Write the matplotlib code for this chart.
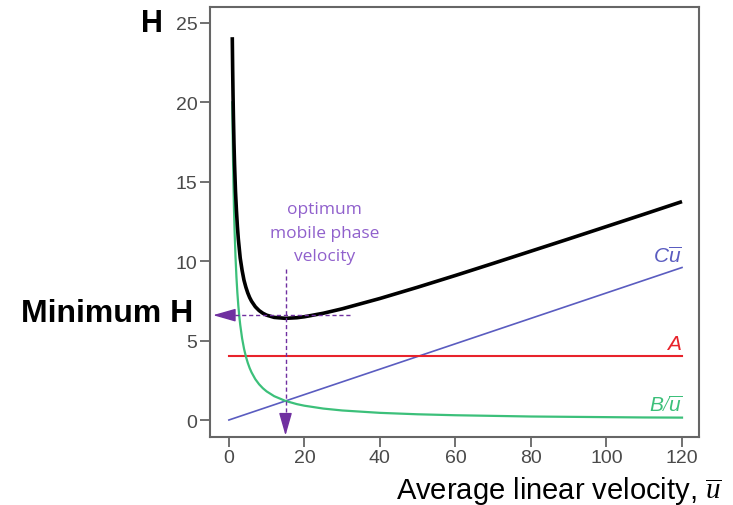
import matplotlib
matplotlib.use("Agg")
import matplotlib.pyplot as plt

plt.rcParams['font.family'] = ['Liberation Sans', 'DejaVu Sans']
plt.rcParams['mathtext.fontset'] = 'custom'
plt.rcParams['mathtext.it'] = 'Liberation Sans:italic'
plt.rcParams['mathtext.rm'] = 'Liberation Serif:italic'

# --- data ---
u_vals = [0.9, 1.0, 1.1, 1.2, 1.35, 1.5, 1.75, 2, 2.25, 2.5, 2.75, 3, 3.5, 4, 4.5,
          5, 5.5, 6, 7, 8, 9, 10, 12, 15, 18, 20, 25, 30, 40, 50, 60, 70, 80,
          90, 100, 110, 120]
h_total = [24.1, 22.1, 20.45, 19.1, 17.4, 16.1, 14.4, 13.2, 12.2, 11.4, 10.8, 10.2,
           9.42, 8.8, 8.36, 8.0, 7.71, 7.48, 7.13, 6.89, 6.72, 6.6, 6.46, 6.4,
           6.44, 6.5, 6.72, 7.0, 7.65, 8.36, 9.1, 9.86, 10.63, 11.4, 12.18,
           12.96, 13.75]
b_term = [20.0, 18.0, 16.4, 15.0, 13.3, 12.0, 10.3, 9.0, 8.0, 7.2, 6.55, 6.0,
          5.14, 4.5, 4.0, 3.6, 3.27, 3.0, 2.57, 2.25, 2.0, 1.8, 1.5, 1.2, 1.0,
          0.9, 0.72, 0.6, 0.45, 0.36, 0.3, 0.26, 0.22, 0.2, 0.18, 0.16, 0.15]
a_u = [0, 120]
a_term = [4.0, 4.0]
c_u = [0, 120]
c_term = [0.0, 9.6]
u_opt = 15
h_min = 6.6
xticks = [0, 20, 40, 60, 80, 100, 120]
yticks = [0, 5, 10, 15, 20, 25]

fig = plt.figure(figsize=(7.33, 5.06), dpi=100)
ax = fig.add_axes([210/733, 1-438/506, (699-210)/733, (438-8)/506])

green = '#3cc07a'
red = '#e8232b'
blue = '#5a5cc0'
purple = '#7030a0'
purple_txt = '#9060cc'

ax.plot(c_u, c_term, color=blue, lw=1.2, zorder=2)
ax.plot(a_u, a_term, color=red, lw=1.5, zorder=2)
ax.plot(u_vals, b_term, color=green, lw=1.6, zorder=3)
ax.plot(u_vals, h_total, color='black', lw=2.6, zorder=4,
        solid_capstyle='butt', solid_joinstyle='round')

ax.set_xlim(-5.0, 124.5)
ax.set_ylim(-1.07, 26.0)
ax.set_xticks(xticks)
ax.set_yticks(yticks)
ax.tick_params(axis='both', direction='out', length=7, width=1.3, color='#666666',
               labelcolor='#4a4a4a', labelsize=14, pad=2)
for s in ax.spines.values():
    s.set_color('#666666')
    s.set_linewidth(1.5)

# purple dashed guides with solid arrowheads
ax.plot([u_opt, u_opt], [9.5, 0.0], color=purple, lw=1.0, ls=(0, (3, 2)), zorder=5)
ax.annotate('', xy=(u_opt, -0.98), xytext=(u_opt, 0.3),
            arrowprops=dict(arrowstyle='-|>,head_length=1.4,head_width=0.4',
                            color=purple, lw=1.0, shrinkA=0, shrinkB=0), zorder=5)
ax.plot([32, -1.0], [h_min, h_min], color=purple, lw=1.0, ls=(0, (3, 2)), zorder=5)
ax.annotate('', xy=(-4.2, h_min), xytext=(-0.5, h_min),
            arrowprops=dict(arrowstyle='-|>,head_length=1.4,head_width=0.4',
                            color=purple, lw=1.0, shrinkA=0, shrinkB=0), zorder=5)

ax.text(25.3, 11.8, 'optimum\nmobile phase\nvelocity', color=purple_txt,
        fontsize=12.5, ha='center', va='center', linespacing=1.6,
        family=['Open Sans', 'DejaVu Sans'])

ax.text(120, 9.7, r'$C\overline{u}$', color=blue, fontsize=15, ha='right', va='bottom')
ax.text(120, 4.2, r'$A$', color=red, fontsize=15, ha='right', va='bottom')
ax.text(120, 0.3, r'$B/\overline{u}$', color=green, fontsize=15, ha='right', va='bottom')

fig.text(152/733, 1-24/506, 'H', fontsize=22, fontweight='bold', ha='center', va='center')
fig.text(107/733, 1-314/506, 'Minimum H', fontsize=23, fontweight='bold',
         ha='center', va='center')
fig.text(722/733, 1-491/506, r'Average linear velocity, $\overline{\mathrm{u}}$',
         fontsize=21, ha='right', va='center')

fig.savefig('out.png', dpi=100)
